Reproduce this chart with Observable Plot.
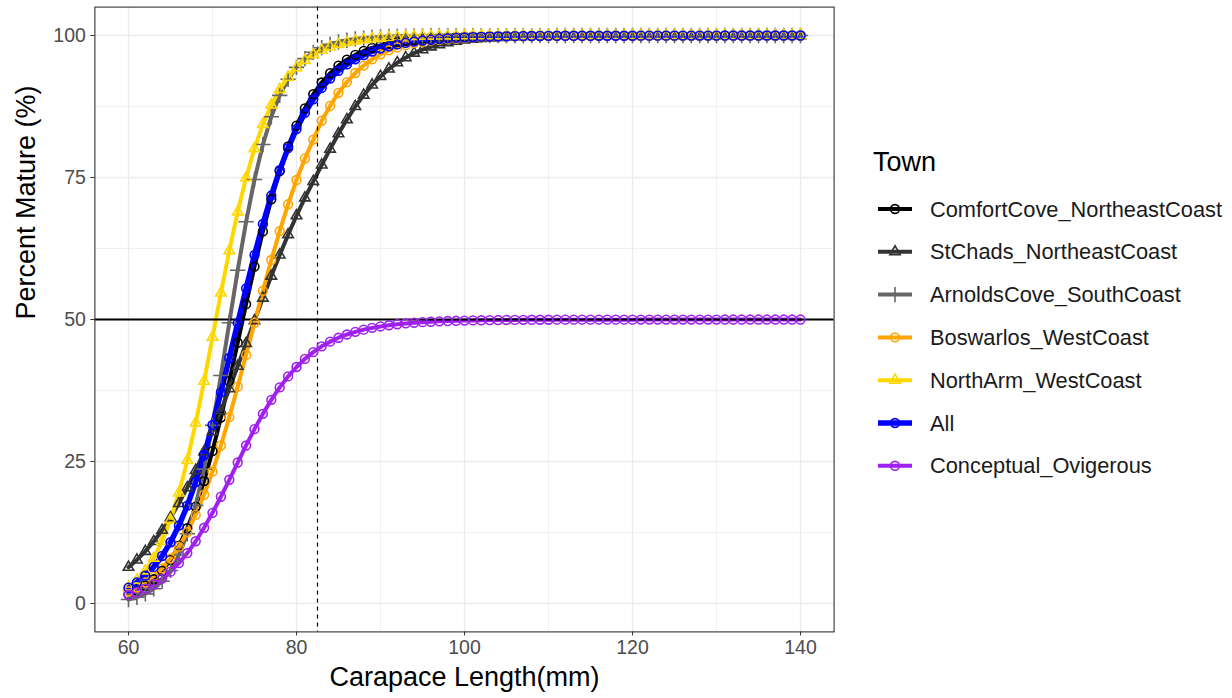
<!DOCTYPE html>
<html><head><meta charset="utf-8">
<script src="https://cdn.jsdelivr.net/npm/d3@7"></script>
<script src="https://cdn.jsdelivr.net/npm/@observablehq/plot@0.6"></script>
<style>
body{margin:0;background:#fff;font-family:"Liberation Sans",Arial,sans-serif;}
#wrap{position:relative;width:1232px;height:698px;overflow:hidden;}
#chart{position:absolute;left:0;top:0;}
#legend{position:absolute;left:0;top:0;pointer-events:none;}
</style></head><body>
<div id="wrap"><div id="chart"></div><svg id="legend" width="1232" height="698"></svg></div>
<script>
// ---- data ----
const lengths = [60,61,62,63,64,65,66,67,68,69,70,71,72,73,74,75,76,77,78,79,80,81,82,83,84,85,86,87,88,89,90,
91,92,93,94,95,96,97,98,99,100,101,102,103,104,105,106,107,108,109,110,111,112,113,114,115,116,117,118,119,120,
121,122,123,124,125,126,127,128,129,130,131,132,133,134,135,136,137,138,139,140];

const towns = ["ComfortCove_NortheastCoast","StChads_NortheastCoast","ArnoldsCove_SouthCoast","Boswarlos_WestCoast","NorthArm_WestCoast","All","Conceptual_Ovigerous"];

const comfortCove = [1.65,2.28,3.13,4.27,5.76,7.69,10.16,13.25,17.04,21.57,26.84,32.75,39.17,45.91,52.70,59.31,65.51,71.16,76.15,80.47,84.13,87.17,89.67,91.72,93.36,94.69,95.75,96.59,97.28,97.81,98.24,98.59,98.86,99.08,99.26,99.40,99.51,99.60,99.68,99.73,99.78,
99.82,99.85,99.88,99.90,99.92,99.93,99.94,99.95,99.96,99.96,99.97,99.97,99.97,99.97,99.97,99.98,99.98,99.98,99.98,99.98,99.99,99.99,99.99,99.99,99.99,99.99,99.99,99.99,99.99,99.99,100,100,100,100,100,100,100,100,100,100];

const stChads = [6.38,7.67,9.18,10.91,12.89,15.12,17.62,20.40,23.43,26.72,30.24,33.94,37.80,41.77,45.79,49.80,53.76,57.64,61.37,64.94,68.27,71.42,74.32,77.2,80.0,82.7,85.2,87.5,89.5,91.3,92.8,94.1,95.2,96.1,96.9,97.5,98.0,98.4,98.75,99.0,99.2,
99.36,99.49,99.59,99.67,99.74,99.79,99.83,99.86,99.89,99.91,99.92,99.93,99.94,99.95,99.95,99.96,99.96,99.96,99.96,99.96,99.97,99.97,99.97,99.97,99.97,99.98,99.98,99.98,99.98,99.98,99.99,99.99,99.99,99.99,99.99,99.99,99.99,99.99,99.99,99.99];

const arnoldsCove = [0.71,1.10,1.70,2.59,3.91,5.82,8.53,12.28,17.28,23.65,31.37,40.13,49.44,58.66,67.20,74.65,80.80,85.70,89.46,92.29,94.38,95.92,97.04,97.85,98.43,98.86,99.16,99.39,99.55,99.67,99.75,99.82,99.86,99.90,99.92,99.94,99.96,99.97,99.98,99.98,99.99,
99.99,99.99,99.99,99.99,99.99,99.99,99.99,99.99,99.99,99.99,100,100,100,100,100,100,100,100,100,100,100,100,100,100,100,100,100,100,100,100,100,100,100,100,100,100,100,100,100,100];

const boswarlos = [2.15,2.83,3.70,4.80,6.19,7.91,10.01,12.56,15.60,19.15,23.23,27.81,32.81,38.18,43.76,49.43,55.05,60.47,65.56,70.28,74.56,78.35,81.67,85.0,87.6,89.9,91.8,93.4,94.7,95.8,96.7,97.4,97.9,98.3,98.65,98.9,99.1,99.25,99.38,99.48,99.56,
99.63,99.69,99.74,99.78,99.81,99.84,99.86,99.88,99.90,99.91,99.92,99.93,99.94,99.94,99.95,99.96,99.96,99.96,99.96,99.96,99.97,99.97,99.97,99.97,99.97,99.98,99.98,99.98,99.98,99.98,99.99,99.99,99.99,99.99,99.99,99.99,99.99,99.99,99.99,99.99];

const northArm = [2.88,4.10,5.75,7.99,10.94,14.73,19.47,25.18,31.80,39.13,46.88,54.66,62.11,68.96,74.96,80.09,84.34,87.77,90.51,92.66,94.33,95.63,96.63,97.40,97.99,98.44,98.79,99.06,99.27,99.43,99.55,99.65,99.72,99.78,99.83,99.86,99.89,99.91,99.93,99.94,99.96,
99.97,99.97,99.97,99.97,99.97,99.98,99.98,99.98,99.98,99.98,99.99,99.99,99.99,99.99,99.99,99.99,99.99,99.99,99.99,99.99,100,100,100,100,100,100,100,100,100,100,100,100,100,100,100,100,100,100,100,100];

const allTowns = [2.78,3.71,4.90,6.44,8.37,10.78,13.72,17.24,21.39,26.14,31.43,37.17,43.22,49.38,55.48,61.35,66.82,71.82,76.28,80.17,83.54,86.38,88.77,90.77,92.43,93.79,94.91,95.82,96.57,97.19,97.69,98.10,98.43,98.71,98.93,99.11,99.26,99.39,99.49,99.58,99.65,
99.70,99.75,99.79,99.82,99.85,99.88,99.90,99.91,99.92,99.94,99.95,99.95,99.95,99.95,99.95,99.96,99.96,99.96,99.96,99.96,99.97,99.97,99.97,99.97,99.97,99.98,99.98,99.98,99.98,99.98,99.99,99.99,99.99,99.99,99.99,100,100,100,100,100];

const conceptualOvigerous = [1.49,1.97,2.59,3.39,4.38,5.61,7.10,8.88,10.96,13.33,15.96,18.80,21.78,24.82,27.82,30.70,33.39,35.85,38.05,39.98,41.64,43.06,44.26,45.27,46.10,46.79,47.36,47.83,48.21,48.53,48.78,48.99,49.17,49.31,49.43,49.53,49.60,49.67,49.73,49.77,49.81,
49.84,49.86,49.89,49.90,49.92,49.93,49.94,49.95,49.96,49.96,49.97,49.97,49.97,49.97,49.97,49.97,49.97,49.97,49.97,49.97,49.98,49.98,49.98,49.98,49.98,49.98,49.98,49.98,49.98,49.98,49.99,49.99,49.99,49.99,49.99,49.99,49.99,49.99,49.99,49.99];

const xTicks = [60,80,100,120,140];
const xMinorTicks = [70,90,110,130];
const yTicks = [0,25,50,75,100];
const yMinorTicks = [12.5,37.5,62.5,87.5];
const referenceLength = 82.5;
const referencePercent = 50;

// ---- styles per series ----
const seriesValues = [comfortCove, stChads, arnoldsCove, boswarlos, northArm, allTowns, conceptualOvigerous];
const colors = ["#000000","#333333","#666666","#FFA500","#FFD700","#0000FF","#A020F0"];
const symbols = ["circle","triangle2","plus","circle","triangle2","circle","circle"];
const lineWidths = [4,4,4,4,4,5.5,4];
const d3Symbols = {circle: d3.symbolCircle, triangle2: d3.symbolTriangle2, plus: d3.symbolPlus};

const series = towns.map((town, i) => ({
  town, color: colors[i], symbol: symbols[i], lw: lineWidths[i],
  rows: lengths.map((x, j) => ({x, y: seriesValues[i][j], town}))
}));

const order = [0,1,2,3,4,5,6];
const radius = s => s.symbol === "circle" ? 4.4 : 5;

const font = "Liberation Sans, Arial, Helvetica, sans-serif";
const marks = [
  Plot.gridX(xMinorTicks, {stroke: "#ebebeb", strokeOpacity: 1, strokeWidth: 0.7}),
  Plot.gridY(yMinorTicks, {stroke: "#ebebeb", strokeOpacity: 1, strokeWidth: 0.7}),
  Plot.gridX(xTicks, {stroke: "#ebebeb", strokeOpacity: 1, strokeWidth: 1.3}),
  Plot.gridY(yTicks, {stroke: "#ebebeb", strokeOpacity: 1, strokeWidth: 1.3}),
  ...order.map(i => Plot.line(series[i].rows, {x: "x", y: "y", stroke: series[i].color, strokeWidth: series[i].lw})),
  Plot.ruleY([referencePercent], {stroke: "black", strokeWidth: 2}),
  Plot.ruleX([referenceLength], {stroke: "black", strokeWidth: 1.2, strokeDasharray: "4,4"}),
  ...order.map(i => Plot.dot(series[i].rows, {
    x: "x", y: "y", r: radius(series[i]),
    symbol: series[i].symbol, stroke: series[i].color, fill: "none", strokeWidth: 1.6
  })),
  Plot.frame({stroke: "#333333", strokeWidth: 1.1}),
  Plot.axisX(xTicks, {tickSize: 4, tickPadding: 4, stroke: "#333333", fill: "#4d4d4d", fontSize: 19.5, label: null}),
  Plot.axisY(yTicks, {tickSize: 4, tickPadding: 5, stroke: "#333333", fill: "#4d4d4d", fontSize: 19.5, label: null}),
  Plot.text(["Carapace Length(mm)"], {text: d => d, frameAnchor: "bottom", dy: 54, fontSize: 27, fill: "black"}),
  Plot.text(["Percent Mature (%)"], {text: d => d, frameAnchor: "left", dx: -69, rotate: -90, fontSize: 27, fill: "black"})
];

const chart = Plot.plot({
  width: 850, height: 698,
  marginLeft: 94.4, marginRight: 16.4, marginTop: 6.6, marginBottom: 66.6,
  style: {fontFamily: font, background: "white", overflow: "visible"},
  x: {domain: [56, 144]},
  y: {domain: [-5, 105]},
  marks
});
document.getElementById("chart").appendChild(chart);

// ---- legend ----
const lg = d3.select("#legend").style("font-family", font);
lg.append("text").attr("x", 873).attr("y", 171).attr("font-size", 27).attr("fill", "black").text("Town");
series.forEach((s, i) => {
  const cy = 209 + i * 42.8;
  const g = lg.append("g");
  g.append("line").attr("x1", 878).attr("x2", 912).attr("y1", cy).attr("y2", cy)
    .attr("stroke", s.color).attr("stroke-width", s.lw);
  const r = radius(s);
  g.append("path").attr("transform", `translate(895,${cy})`)
    .attr("d", d3.symbol(d3Symbols[s.symbol], Math.PI * r * r)())
    .attr("fill", "none").attr("stroke", s.color).attr("stroke-width", 1.6);
  g.append("text").attr("x", 930).attr("y", cy).attr("dy", "0.35em")
    .attr("font-size", 21.8).attr("fill", "#1a1a1a").text(s.town);
});
</script>
</body></html>
